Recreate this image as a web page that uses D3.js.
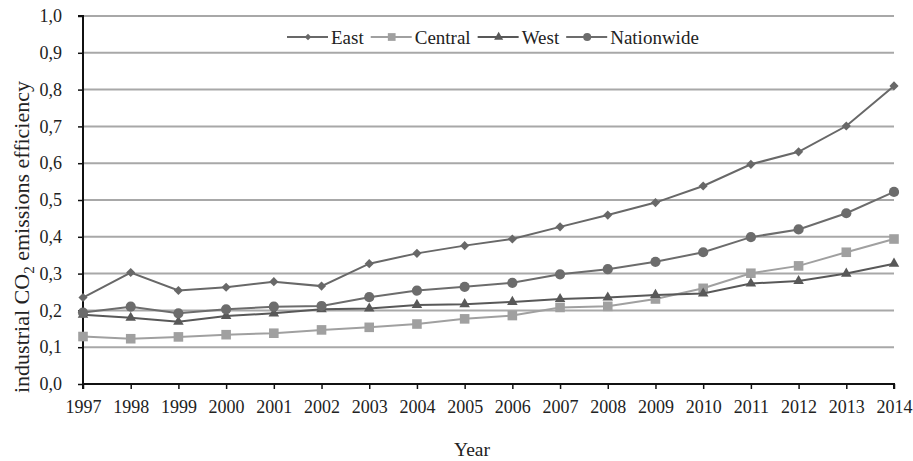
<!DOCTYPE html>
<html>
<head>
<meta charset="utf-8">
<script src="https://cdn.jsdelivr.net/npm/d3@7"></script>
<style>
  html, body { margin: 0; padding: 0; background: #fff; }
  svg { display: block; }
  text { font-family: "Liberation Serif", "Times New Roman", serif; fill: #222; }
</style>
</head>
<body>
<svg id="chart" width="913" height="461"></svg>
<script>
const years = [1997, 1998, 1999, 2000, 2001, 2002, 2003, 2004, 2005, 2006, 2007, 2008, 2009, 2010, 2011, 2012, 2013, 2014];
const east       = [0.235, 0.303, 0.254, 0.263, 0.278, 0.266, 0.327, 0.355, 0.376, 0.394, 0.427, 0.459, 0.493, 0.538, 0.597, 0.631, 0.701, 0.810];
const central    = [0.129, 0.123, 0.128, 0.134, 0.138, 0.147, 0.154, 0.163, 0.177, 0.186, 0.208, 0.211, 0.231, 0.260, 0.301, 0.321, 0.358, 0.394];
const west       = [0.188, 0.180, 0.169, 0.185, 0.192, 0.203, 0.205, 0.215, 0.217, 0.223, 0.231, 0.235, 0.242, 0.246, 0.273, 0.280, 0.300, 0.327];
const nationwide = [0.194, 0.210, 0.192, 0.203, 0.210, 0.212, 0.236, 0.254, 0.264, 0.275, 0.298, 0.312, 0.332, 0.358, 0.399, 0.420, 0.464, 0.522];
const yTicks = [0, 0.1, 0.2, 0.3, 0.4, 0.5, 0.6, 0.7, 0.8, 0.9, 1.0];

// square-proportioned diamond (a square turned 45 degrees)
const symbolRhomb = {
  draw(context, size) {
    const r = Math.sqrt(size / 2);
    context.moveTo(0, -r);
    context.lineTo(r, 0);
    context.lineTo(0, r);
    context.lineTo(-r, 0);
    context.closePath();
  }
};

const series = [
  { name: "East",       values: east,       color: "#686868", symbol: symbolRhomb,       size: 42, legendSize: 22 },
  { name: "Central",    values: central,    color: "#a0a0a0", symbol: d3.symbolSquare,   size: 92, legendSize: 60 },
  { name: "West",       values: west,       color: "#585858", symbol: d3.symbolTriangle, size: 48, legendSize: 36 },
  { name: "Nationwide", values: nationwide, color: "#6c6c6c", symbol: d3.symbolCircle,   size: 82, legendSize: 50 }
];

const svg = d3.select("#chart");
const plot = { left: 83, right: 894, top: 16, bottom: 384 };

const x = d3.scalePoint().domain(years).range([plot.left, plot.right]);
const y = d3.scaleLinear().domain([0, 1]).range([plot.bottom, plot.top]);

// horizontal grid
svg.append("g")
  .selectAll("line")
  .data(yTicks.filter(d => d > 0))
  .join("line")
  .attr("x1", plot.left).attr("x2", plot.right)
  .attr("y1", d => y(d)).attr("y2", d => y(d))
  .attr("stroke", "#a8a8a8").attr("stroke-width", 2);

// axes
const yAxis = svg.append("g")
  .attr("transform", `translate(${plot.left},0)`)
  .call(d3.axisLeft(y).tickValues(yTicks).tickSize(5).tickPadding(16)
    .tickFormat(d => d3.format(".1f")(d).replace(".", ",")));
const xAxis = svg.append("g")
  .attr("transform", `translate(0,${plot.bottom})`)
  .call(d3.axisBottom(x).tickSize(5).tickPadding(11).tickFormat(d => String(d)));

[yAxis, xAxis].forEach(a => {
  a.select(".domain").attr("stroke", "#111").attr("stroke-width", 2);
  a.selectAll(".tick line").attr("stroke", "#111").attr("stroke-width", 1.5);
  a.selectAll(".tick text").style("font-family", "Liberation Serif, serif")
    .style("font-size", "18px").attr("fill", "#222");
});
yAxis.select(".domain").attr("d", `M-5,${plot.top}H0V${plot.bottom}`);
xAxis.select(".domain").attr("d", `M${plot.left},5V0H${plot.right}V5`);

// series lines and markers
const line = d3.line().x((d, i) => x(years[i])).y(d => y(d));
series.forEach(s => {
  const g = svg.append("g");
  g.append("path")
    .datum(s.values)
    .attr("d", line)
    .attr("fill", "none")
    .attr("stroke", s.color)
    .attr("stroke-width", 2);
  g.selectAll("path.m")
    .data(s.values)
    .join("path")
    .attr("class", "m")
    .attr("d", d3.symbol().type(s.symbol).size(s.size))
    .attr("transform", (d, i) => `translate(${x(years[i])},${y(d)})`)
    .attr("fill", s.color);
});

// legend
const legend = svg.append("g").attr("transform", "translate(287,37)");
let lx = 0;
series.forEach(s => {
  const item = legend.append("g").attr("transform", `translate(${lx},0)`);
  item.append("line").attr("x1", 0).attr("x2", 41).attr("y1", 0).attr("y2", 0)
    .attr("stroke", s.color).attr("stroke-width", 2);
  item.append("path").attr("d", d3.symbol().type(s.symbol).size(s.legendSize)())
    .attr("transform", "translate(21,0)").attr("fill", s.color);
  const t = item.append("text").attr("x", 44).attr("y", 6.5)
    .style("font-size", "19px").text(s.name);
  lx += 44 + t.node().getComputedTextLength() + 7;
});

// axis titles
svg.append("text")
  .attr("transform", "translate(29,237) rotate(-90)")
  .attr("text-anchor", "middle")
  .style("font-size", "22px")
  .html('industrial CO<tspan dy="5" font-size="15px">2</tspan><tspan dy="-5"> emissions efficiency</tspan>');

svg.append("text")
  .attr("x", 472).attr("y", 456)
  .attr("text-anchor", "middle")
  .style("font-size", "19.5px")
  .text("Year");
</script>
</body>
</html>
